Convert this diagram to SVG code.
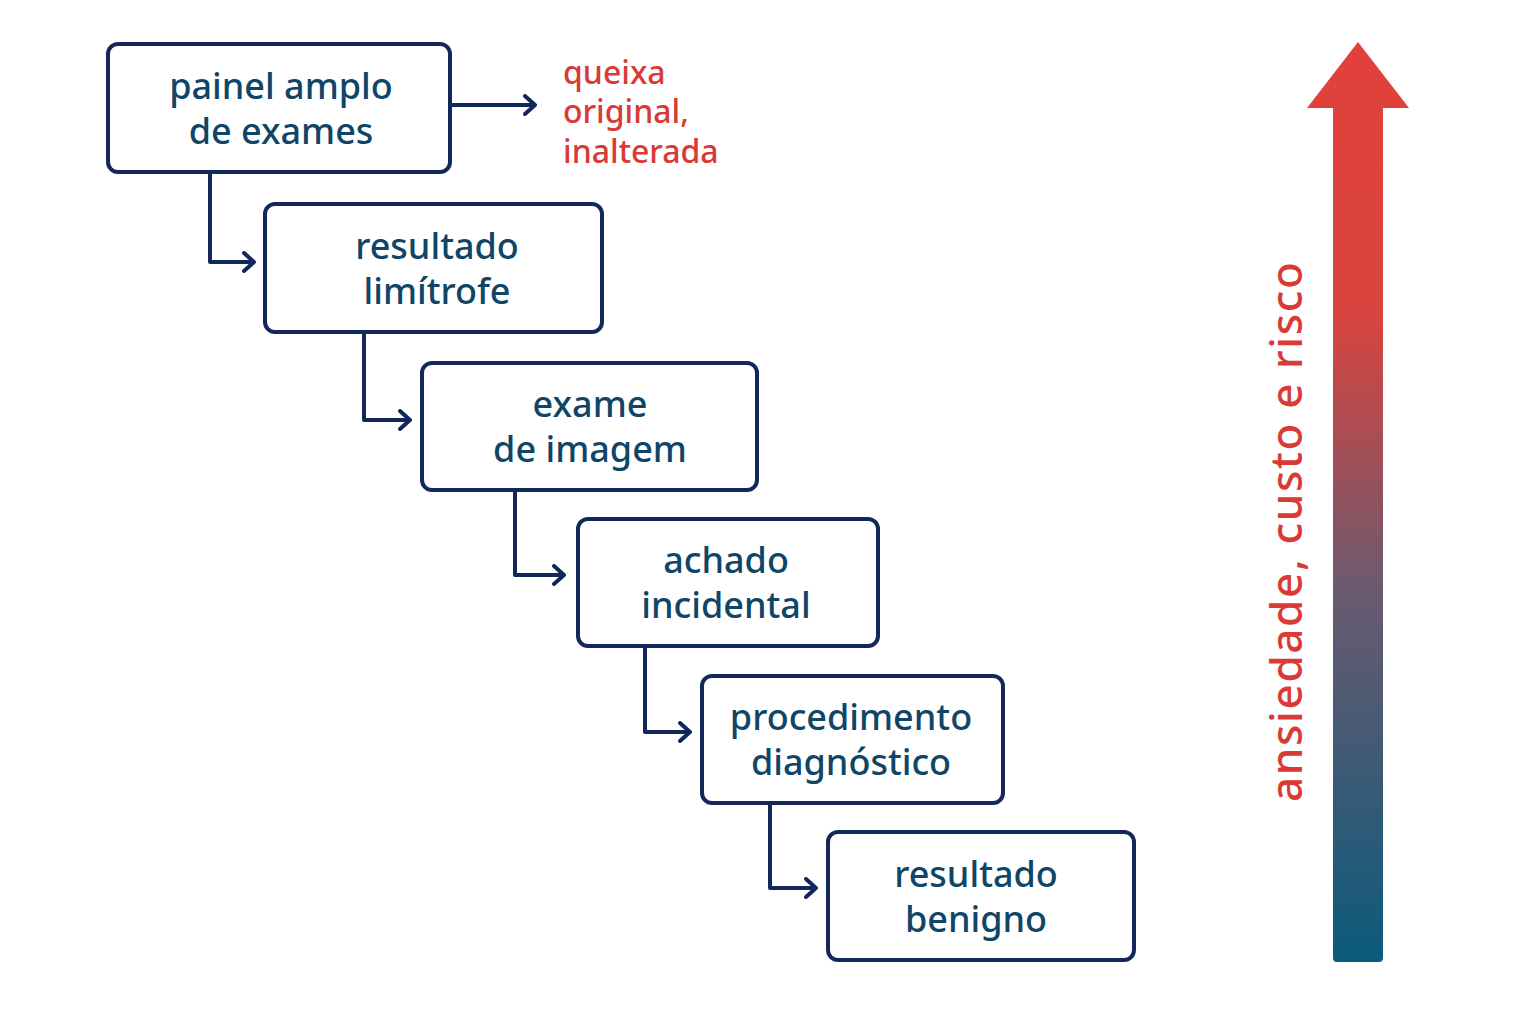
<svg xmlns="http://www.w3.org/2000/svg" width="1536" height="1024" viewBox="0 0 1536 1024">
<defs>
<linearGradient id="g" x1="0" y1="42" x2="0" y2="962" gradientUnits="userSpaceOnUse">
<stop offset="0" stop-color="#e2413a"/><stop offset="0.3" stop-color="#d8443f"/><stop offset="0.6" stop-color="#6a5a70"/><stop offset="1" stop-color="#0b5a7c"/></linearGradient>
<linearGradient id="gt" x1="0" y1="260" x2="0" y2="805" gradientUnits="userSpaceOnUse">
<stop offset="0" stop-color="#d93a36"/><stop offset="1" stop-color="#c2403e"/></linearGradient>
<marker id="ah" viewBox="0 0 14 22" refX="12" refY="11" markerWidth="14" markerHeight="22" markerUnits="userSpaceOnUse" orient="auto"><path d="M2 2 L12 11 L2 20" fill="none" stroke="#13285a" stroke-width="4" stroke-linecap="round" stroke-linejoin="round"/></marker>
</defs>
<style>
.b{fill:#fff;stroke:#13285a;stroke-width:4}
.t{font-family:"Noto Sans","Open Sans",sans-serif;font-size:36px;font-weight:500;fill:#0f4668;text-anchor:middle}
.c{fill:none;stroke:#13285a;stroke-width:4;stroke-linejoin:round}
</style>
<rect width="1536" height="1024" fill="#fff"/>
<g id="n1"><rect class="b" x="108" y="44" width="342" height="128" rx="10"/><text class="t" x="281" y="99">painel amplo</text><text class="t" x="281" y="144">de exames</text></g>
<g id="n2"><rect class="b" x="265" y="204" width="337" height="128" rx="10"/><text class="t" x="437" y="259">resultado</text><text class="t" x="437" y="304">limítrofe</text></g>
<g id="n3"><rect class="b" x="422" y="363" width="335" height="127" rx="10"/><text class="t" x="590" y="417">exame</text><text class="t" x="590" y="462">de imagem</text></g>
<g id="n4"><rect class="b" x="578" y="519" width="300" height="127" rx="10"/><text class="t" x="726" y="573">achado</text><text class="t" x="726" y="618">incidental</text></g>
<g id="n5"><rect class="b" x="702" y="676" width="301" height="127" rx="10"/><text class="t" x="851" y="730">procedimento</text><text class="t" x="851" y="775">diagnóstico</text></g>
<g id="n6"><rect class="b" x="828" y="832" width="306" height="128" rx="10"/><text class="t" x="976" y="887">resultado</text><text class="t" x="976" y="932">benigno</text></g>
<g id="side"><text font-family="Noto Sans,sans-serif" font-size="32" font-weight="500" fill="#d93a36"><tspan x="563" y="84">queixa</tspan><tspan x="563" y="123">original,</tspan><tspan x="563" y="163">inalterada</tspan></text></g>
<g id="connectors">
<path class="c" d="M450 105 H535" marker-end="url(#ah)"/>
<path class="c" d="M210 172 V262 H254" marker-end="url(#ah)"/>
<path class="c" d="M364 332 V420 H410" marker-end="url(#ah)"/>
<path class="c" d="M515 490 V575 H564" marker-end="url(#ah)"/>
<path class="c" d="M645 646 V732 H690" marker-end="url(#ah)"/>
<path class="c" d="M770 803 V888 H816" marker-end="url(#ah)"/>
</g>
<g id="scale">
<path d="M1358 42 L1409 108 L1383 108 L1383 958 Q1383 962 1379 962 L1337 962 Q1333 962 1333 958 L1333 108 L1307 108 Z" fill="url(#g)"/>
<text transform="translate(1302 532) rotate(-90)" font-family="Noto Sans,sans-serif" font-size="44" font-weight="500" fill="url(#gt)" text-anchor="middle" textLength="540">ansiedade, custo e risco</text>
</g>
</svg>
